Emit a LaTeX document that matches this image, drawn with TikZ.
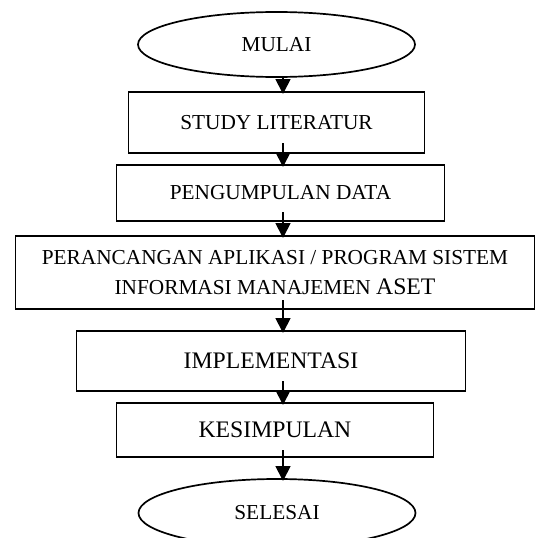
\documentclass[tikz,border=0pt]{standalone}
\usepackage{fontspec}
\setmainfont{Liberation Serif}
\usepackage{tikz}
\usetikzlibrary{positioning, arrows.meta, shapes, shapes.geometric}

\begin{document}
\begin{tikzpicture}[x=1pt, y=-1pt, line width=1.7pt,
	box/.style={draw, rectangle, inner sep=0pt, outer sep=0pt, align=center, font=\fontsize{21.3}{30}\selectfont},
	term/.style={draw, ellipse, inner sep=0pt, outer sep=0pt, minimum width=277pt, font=\fontsize{21.3}{26}\selectfont},
	arr/.style={-{Triangle[length=15pt, width=15pt]}, line width=1.8pt, shorten >=-2pt}]
	\useasboundingbox (0,0) rectangle (535,538);
	\clip (0,0) rectangle (535,538);
	\coordinate (ax) at (283,0);
	\node[term, minimum height=65pt] (mulai) at (276.5,44.5) {MULAI};
	\node[box, below = 15pt of mulai, minimum width=296pt, minimum height=61pt] (lit) {STUDY LITERATUR};
	\node[box, below = 12pt of lit, xshift=4pt, minimum width=328pt, minimum height=56pt] (data) {PENGUMPULAN DATA};
	\node[box, below = 15pt of data, xshift=-5.5pt, minimum width=519pt, minimum height=73pt] (desain) {PERANCANGAN APLIKASI / PROGRAM SISTEM\\INFORMASI MANAJEMEN {\fontsize{23.7}{30}\selectfont ASET}};
	\node[box, below = 22pt of desain, xshift=-4pt, minimum width=389pt, minimum height=60pt, font=\fontsize{23.7}{30}\selectfont] (impl) {IMPLEMENTASI};
	\node[box, below = 12pt of impl, xshift=4pt, minimum width=317pt, minimum height=54pt, font=\fontsize{23.7}{30}\selectfont] (simp) {KESIMPULAN};
	\node[term, below = 22pt of simp, xshift=2pt, minimum height=68pt] (selesai) {SELESAI};
	
	\draw[arr] (mulai.south -| ax) -- (lit.north -| ax);
	\draw[arr] ([yshift=10pt]lit.south -| ax) -- (data.north -| ax);
	\draw[arr] ([yshift=9pt]data.south -| ax) -- (desain.north -| ax);
	\draw[arr] ([yshift=9pt]desain.south -| ax) -- (impl.north -| ax);
	\draw[arr] ([yshift=10pt]impl.south -| ax) -- (simp.north -| ax);
	\draw[arr] ([yshift=7pt]simp.south -| ax) -- (selesai.north -| ax);
	
\end{tikzpicture}
\end{document}
